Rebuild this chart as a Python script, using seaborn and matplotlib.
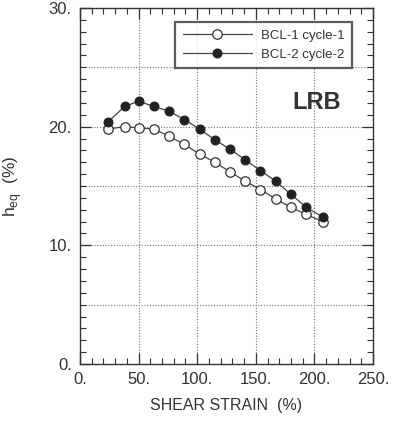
import matplotlib
matplotlib.use("Agg")
import matplotlib.pyplot as plt
import seaborn as sns
import numpy as np
import pandas as pd
from matplotlib.ticker import MultipleLocator, FuncFormatter

strain = [24, 38, 50, 63, 76, 89, 102, 115, 128, 141, 154, 167, 180, 193, 207]
bcl1 = [19.8, 20.0, 19.9, 19.8, 19.2, 18.5, 17.7, 17.0, 16.2, 15.4, 14.7, 13.9, 13.2, 12.6, 12.0]
bcl2 = [20.4, 21.7, 22.15, 21.7, 21.3, 20.6, 19.8, 18.9, 18.1, 17.2, 16.3, 15.4, 14.3, 13.2, 12.4]
labels = ["BCL-1 cycle-1", "BCL-2 cycle-2"]

sns.set_style("ticks")
plt.rcParams['font.family'] = ['Liberation Sans', 'DejaVu Sans']
txt = "#333333"

fig = plt.figure(figsize=(4.01, 4.23), dpi=100)
ax = fig.add_axes([80/401, 1 - 364/423, 293/401, 356/423])

sns.lineplot(x=strain, y=bcl1, ax=ax, color="#444444", lw=0.9, marker="o",
             markersize=6.8, markerfacecolor="white", markeredgecolor="#333333",
             markeredgewidth=0.9, label=labels[0])
sns.lineplot(x=strain, y=bcl2, ax=ax, color="#444444", lw=0.9, marker="o",
             markersize=6.3, markerfacecolor="#222222", markeredgecolor="#222222",
             markeredgewidth=0.9, label=labels[1])

ax.set_xlim(0, 250)
ax.set_ylim(0, 30)
ax.xaxis.set_major_locator(MultipleLocator(50))
ax.xaxis.set_minor_locator(MultipleLocator(10))
ax.yaxis.set_major_locator(MultipleLocator(10))
ax.yaxis.set_minor_locator(MultipleLocator(1))
fmt = FuncFormatter(lambda v, p: f"{v:g}.")
ax.xaxis.set_major_formatter(fmt)
ax.yaxis.set_major_formatter(fmt)

for g in [50, 100, 150, 200]:
    ax.axvline(g, color="#777777", lw=0.8, ls=(0, (1, 1.5)), zorder=0)
for g in [5, 10, 15, 20, 25]:
    ax.axhline(g, color="#777777", lw=0.8, ls=(0, (1, 1.5)), zorder=0)

ax.tick_params(which="both", direction="in", top=True, right=True, colors="#333333",
               labelcolor=txt, labelsize=12)
ax.tick_params(which="major", length=8, width=0.9, pad=6)
ax.tick_params(which="minor", length=4.5, width=0.8)
for s in ax.spines.values():
    s.set_color("#333333")
    s.set_linewidth(1.0)

ax.set_xlabel("SHEAR STRAIN  (%)", fontsize=11.5, color=txt, labelpad=8)
ax.set_ylabel("h$_{\\mathregular{eq}}$  (%)", fontsize=12.5, color=txt, labelpad=18)

leg = ax.legend(loc="upper right", bbox_to_anchor=(0.93, 0.962), frameon=True,
                fancybox=False, edgecolor="#333333", fontsize=9.5,
                handlelength=5.2, borderpad=0.6, labelspacing=0.5, handletextpad=0.7,
                borderaxespad=0)
leg.get_frame().set_linewidth(1.6)
for t in leg.get_texts():
    t.set_color(txt)

ax.text(0.89, 0.735, "LRB", transform=ax.transAxes, ha="right", va="center",
        fontsize=17, color="#333333", fontweight="bold")

fig.savefig("out.png", dpi=100)
